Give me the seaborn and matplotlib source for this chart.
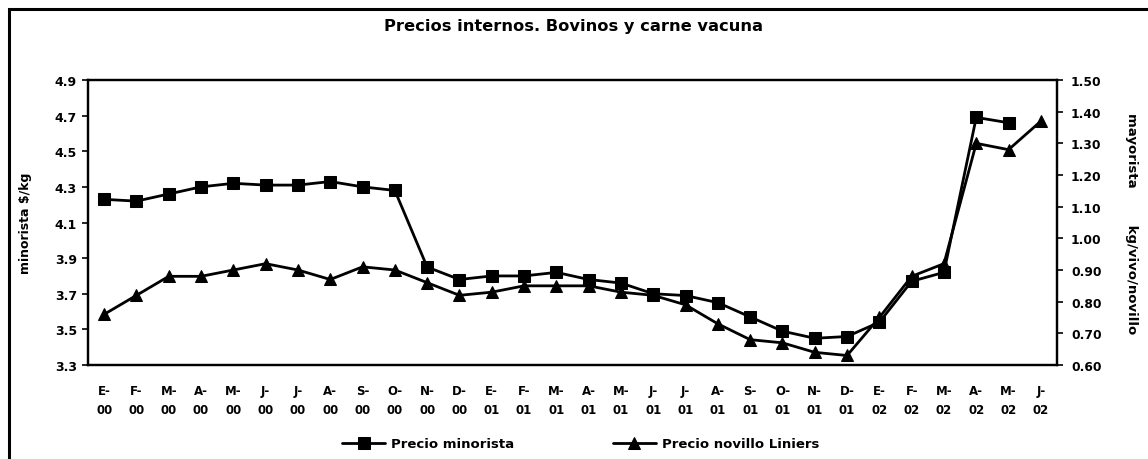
import numpy as np
import pandas as pd
import matplotlib
matplotlib.use("Agg")
import matplotlib.pyplot as plt
from matplotlib.patches import Rectangle
import seaborn as sns

months = ["E-\n00", "F-\n00", "M-\n00", "A-\n00", "M-\n00", "J-\n00", "J-\n00", "A-\n00",
          "S-\n00", "O-\n00", "N-\n00", "D-\n00", "E-\n01", "F-\n01", "M-\n01", "A-\n01",
          "M-\n01", "J-\n01", "J-\n01", "A-\n01", "S-\n01", "O-\n01", "N-\n01", "D-\n01",
          "E-\n02", "F-\n02", "M-\n02", "A-\n02", "M-\n02", "J-\n02"]

# retail price ($/kg), no value for J-02
minorista = [4.23, 4.22, 4.26, 4.30, 4.32, 4.31, 4.31, 4.33, 4.30, 4.28,
             3.85, 3.78, 3.80, 3.80, 3.82, 3.78, 3.76, 3.70, 3.69, 3.65,
             3.57, 3.49, 3.45, 3.46, 3.54, 3.77, 3.82, 4.69, 4.66, np.nan]

# wholesale steer price at Liniers (kg/vivo/novillo)
novillo = [0.76, 0.82, 0.88, 0.88, 0.90, 0.92, 0.90, 0.87, 0.91, 0.90,
           0.86, 0.82, 0.83, 0.85, 0.85, 0.85, 0.83, 0.82, 0.79, 0.73,
           0.68, 0.67, 0.64, 0.63, 0.75, 0.88, 0.92, 1.30, 1.28, 1.37]

df = pd.DataFrame({"pos": np.arange(len(months)), "minorista": minorista, "novillo": novillo})

sns.set_style("white")
plt.rcParams["font.family"] = ["DejaVu Sans"]
plt.rcParams["font.weight"] = "bold"
for k in ("text.color", "axes.labelcolor", "xtick.color", "ytick.color"):
    plt.rcParams[k] = "black"

fig = plt.figure(figsize=(11.48, 4.6), dpi=100)
ax = fig.add_axes([88 / 1148, 1 - 366 / 460, (1057 - 88) / 1148, (366 - 81) / 460])
ax2 = ax.twinx()

sns.lineplot(data=df, x="pos", y="minorista", ax=ax, color="black", lw=2,
             marker="s", markersize=9, markeredgecolor="black", label="Precio minorista",
             legend=False)
sns.lineplot(data=df, x="pos", y="novillo", ax=ax2, color="black", lw=2,
             marker="^", markersize=9, markeredgecolor="black", label="Precio novillo Liniers",
             legend=False)

n = len(months)
ax.set_xlim(-0.5, n - 0.5)
ax.set_ylim(3.3, 4.9)
ax2.set_ylim(0.6, 1.5)
ax.set_yticks(np.arange(3.3, 4.91, 0.2))
ax.set_yticklabels([f"{v:.1f}" for v in np.arange(3.3, 4.91, 0.2)])
ax2.set_yticks(np.arange(0.6, 1.51, 0.1))
ax2.set_yticklabels([f"{v:.2f}" for v in np.arange(0.6, 1.51, 0.1)])

ax.set_xticks(np.arange(-0.5, n, 1.0))
ax.set_xticklabels([])
ax.set_xticks(np.arange(n), minor=True)
ax.set_xticklabels(months, minor=True, linespacing=1.6)
ax.tick_params(axis="x", which="major", direction="out", length=4, width=1.2, color="black")
ax.tick_params(axis="x", which="minor", length=0, pad=14, labelsize=8.5)
ax.tick_params(axis="y", direction="out", length=4, width=1.2, color="black", labelsize=9, pad=4)
ax2.tick_params(axis="y", direction="out", length=4, width=1.2, color="black", labelsize=8.8, pad=6)

for a in (ax, ax2):
    for s in a.spines.values():
        s.set_color("black")
        s.set_linewidth(1.6)
    a.set_xlabel("")

ax.set_ylabel("minorista $/kg", fontsize=9, fontweight="bold", labelpad=16)
ax2.set_ylabel("mayorista        kg/vivo/novillo", fontsize=9.5, fontweight="bold",
               rotation=270, labelpad=26)

fig.text(0.5, 1 - 27 / 460, "Precios internos. Bovinos y carne vacuna", ha="center", va="center",
         fontsize=11.7, fontweight="bold")

h1, l1 = ax.get_legend_handles_labels()
h2, l2 = ax2.get_legend_handles_labels()
fig.legend(h1 + h2, l1 + l2, loc="center", bbox_to_anchor=(581 / 1148, 1 - 445 / 460), ncol=2,
           frameon=False, fontsize=9.5, columnspacing=7.5, handlelength=3.2, handletextpad=0.5)

fig.patches.append(Rectangle((9 / 1148, -0.1), 1.2, 1.1 - 10 / 460, transform=fig.transFigure,
                             fill=False, edgecolor="black", linewidth=2.2, zorder=10))

fig.savefig("out.png", dpi=100, facecolor="white")
